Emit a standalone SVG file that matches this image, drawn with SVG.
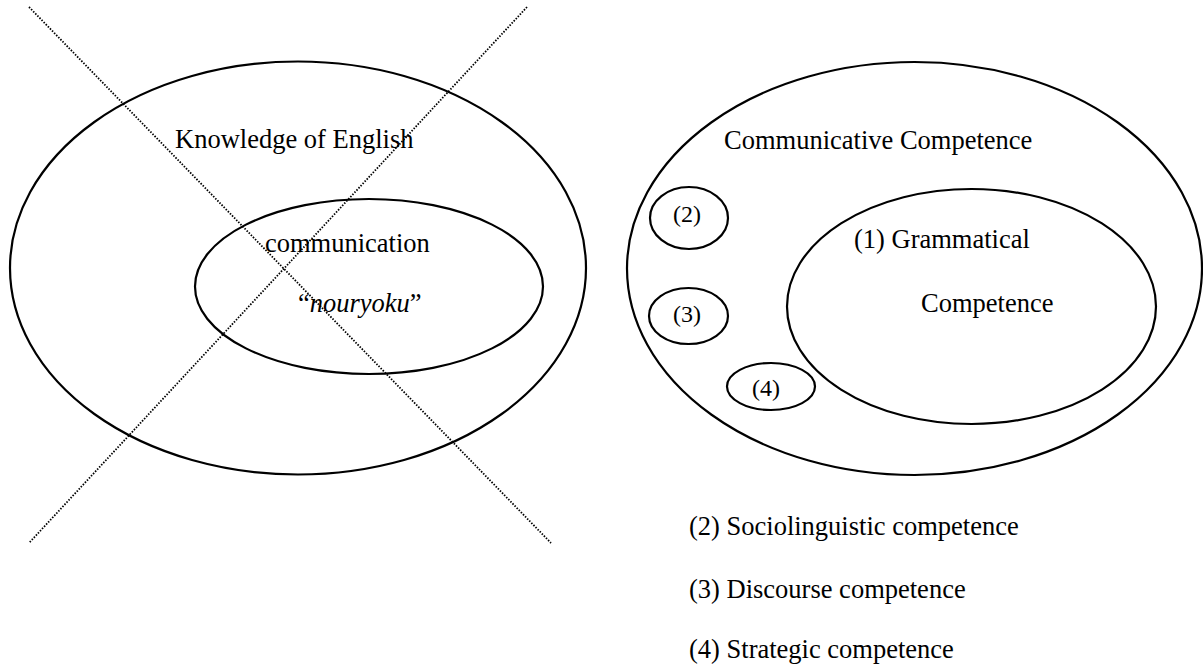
<svg xmlns="http://www.w3.org/2000/svg" width="1203" height="666" viewBox="0 0 1203 666">
  <style>
    .ring { fill: none; stroke: #000; stroke-width: 2.2; }
    .cross { fill: none; stroke: #000; stroke-width: 1.8; stroke-dasharray: 1.5 1.5; }
    .label { font-family: "Liberation Serif", "Times New Roman", serif; font-size: 26.5px; fill: #000; }
    .small { font-family: "Liberation Serif", "Times New Roman", serif; font-size: 24px; fill: #000; }
  </style>
  <rect width="1203" height="666" fill="#fff"/>

  <!-- Left model: knowledge of English containing communication nouryoku -->
  <g id="knowledge-of-english">
    <ellipse class="ring" cx="298" cy="268" rx="288" ry="206.5"/>
    <text class="label" x="175" y="148">Knowledge of English</text>
  </g>
  <g id="communication-nouryoku">
    <ellipse class="ring" cx="369" cy="286.5" rx="174" ry="87.5"/>
    <text class="label" x="265" y="252">communication</text>
    <text class="label" x="298" y="312">“<tspan font-style="italic">nouryoku</tspan>”</text>
  </g>

  <!-- Crossing-out lines over the left model -->
  <g id="connectors">
    <line class="cross" x1="29" y1="7" x2="551" y2="543"/>
    <line class="cross" x1="527" y1="7" x2="29" y2="543"/>
  </g>

  <!-- Right model: communicative competence and its four components -->
  <g id="communicative-competence">
    <ellipse class="ring" cx="914.5" cy="268.5" rx="287.5" ry="206.5"/>
    <text class="label" x="724" y="149">Communicative Competence</text>
  </g>
  <g id="grammatical-competence">
    <ellipse class="ring" cx="971.5" cy="306.5" rx="184.5" ry="117.5"/>
    <text class="label" x="854" y="248">(1) Grammatical</text>
    <text class="label" x="921" y="312">Competence</text>
  </g>
  <g id="component-2">
    <ellipse class="ring" cx="689" cy="218" rx="39" ry="31"/>
    <text class="small" x="673" y="222">(2)</text>
  </g>
  <g id="component-3">
    <ellipse class="ring" cx="688.5" cy="316" rx="39.5" ry="28"/>
    <text class="small" x="673" y="322">(3)</text>
  </g>
  <g id="component-4">
    <ellipse class="ring" cx="771" cy="386.5" rx="44" ry="23.5"/>
    <text class="small" x="752" y="396">(4)</text>
  </g>

  <!-- Legend -->
  <g id="legend">
    <text class="label" x="689" y="535">(2) Sociolinguistic competence</text>
    <text class="label" x="689" y="598">(3) Discourse competence</text>
    <text class="label" x="689" y="658">(4) Strategic competence</text>
  </g>
</svg>
